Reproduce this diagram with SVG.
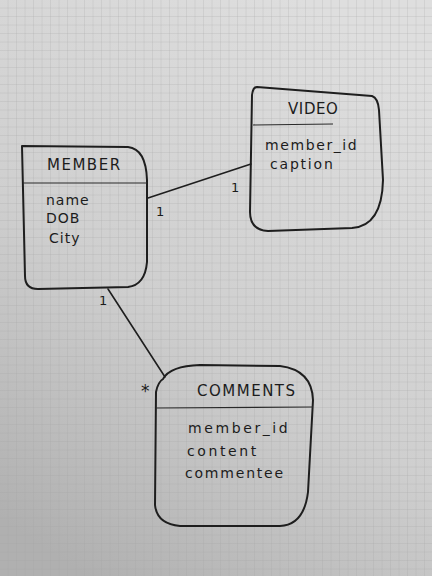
<svg xmlns="http://www.w3.org/2000/svg" width="432" height="576" viewBox="0 0 432 576">
<defs>
<linearGradient id="paper" x1="0.7" y1="0" x2="0.2" y2="1">
<stop offset="0" stop-color="#dedede"/>
<stop offset="0.55" stop-color="#cfcfcf"/>
<stop offset="1" stop-color="#b0b0b0"/>
</linearGradient>
<pattern id="grid" width="8.5" height="8.5" patternUnits="userSpaceOnUse">
<path d="M8.5 0V8.5M0 8.5H8.5" fill="none" stroke="#a0a0a0" stroke-width="0.6" opacity="0.7"/>
</pattern>
<style>
.box{fill:none;stroke:#1e1e1e;stroke-width:2;stroke-linejoin:round;stroke-linecap:round}
.div{fill:none;stroke:#2a2a2a;stroke-width:1.2}
.conn{fill:none;stroke:#1e1e1e;stroke-width:1.6;stroke-linecap:round}
.title{font-family:"DejaVu Sans",sans-serif;font-size:15px;fill:#1c1c1c;letter-spacing:1.5px}
.attr{font-family:"DejaVu Sans",sans-serif;font-size:14px;fill:#1c1c1c;letter-spacing:1px}
.wide{letter-spacing:2.6px}
.mult{font-family:"DejaVu Sans",sans-serif;font-size:13px;fill:#1c1c1c}
</style>
</defs>
<rect width="432" height="576" fill="url(#paper)"/>
<rect width="432" height="576" fill="url(#grid)"/>
<g id="connectors">
<path class="conn" d="M148 198 L251 164"/>
<path class="conn" d="M108 289 L165 377"/>
<text class="mult" x="156" y="216">1</text>
<text class="mult" x="231" y="192">1</text>
<text class="mult" x="99" y="305">1</text>
<text class="mult" x="141" y="397" style="font-size:17px">*</text>
</g>
<g id="member">
<path class="box" d="M22 146 L128 147 Q146 149 147 180 L147 262 Q145 285 128 287 L38 289 Q25 289 25 276 Z"/>
<path class="div" d="M23 183 L147 183"/>
<text class="title" x="47" y="170">MEMBER</text>
<text class="attr" x="46" y="205">name</text>
<text class="attr" x="46" y="223">DOB</text>
<text class="attr" x="49" y="243">City</text>
</g>
<g id="video">
<path class="box" d="M257 87 L372 96 Q378 98 379 110 L383 180 Q382 226 352 228 L268 231 Q250 230 250 212 L252 95 Q253 87 257 87 Z"/>
<path class="div" d="M253 125 L333 124"/>
<text class="title" x="288" y="114" style="letter-spacing:0.6px">VIDEO</text>
<text class="attr" x="265" y="150" style="letter-spacing:1.6px">member_id</text>
<text class="attr" x="270" y="169" style="letter-spacing:1.8px">caption</text>
</g>
<g id="comments">
<path class="box" d="M163 379 Q170 366 200 365 L280 366 Q312 370 313 400 L308 492 Q304 525 280 526 L180 526 Q157 524 155 505 L156 392 Q158 382 163 379 Z"/>
<path class="div" d="M156 408 L313 407"/>
<text class="title" x="197" y="396">COMMENTS</text>
<text class="attr wide" x="188" y="433">member_id</text>
<text class="attr wide" x="187" y="456">content</text>
<text class="attr" x="185" y="478" style="letter-spacing:1.8px">commentee</text>
</g>
</svg>
